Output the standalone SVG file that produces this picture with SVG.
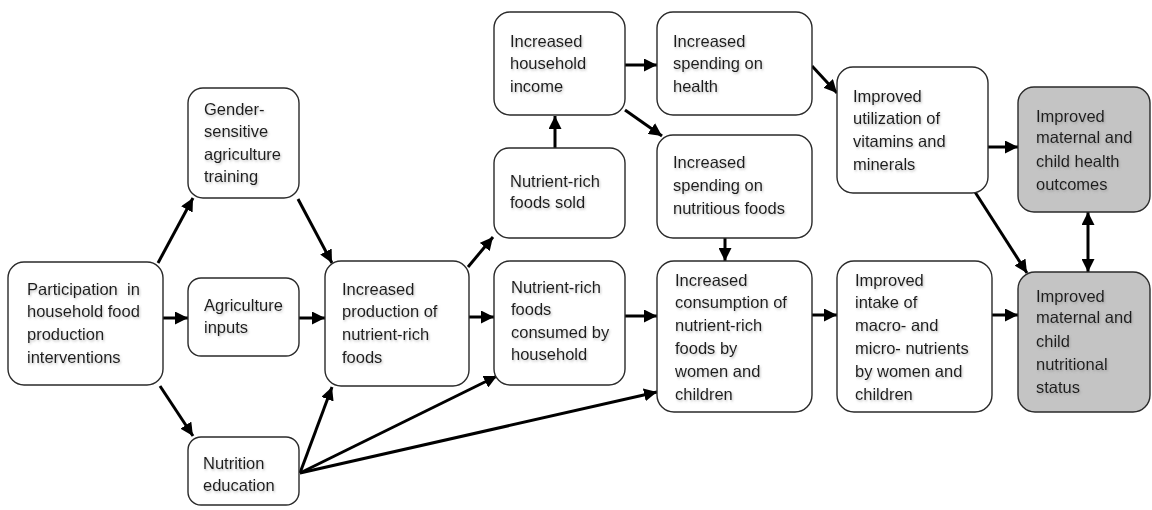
<svg xmlns="http://www.w3.org/2000/svg" width="1152" height="510" viewBox="0 0 1152 510">
  <style>
    .box { fill: #ffffff; stroke: #2a2a2a; stroke-width: 1.4; }
    .box.outcome { fill: #c4c4c4; }
    .lbl { font-family: "Liberation Sans", Arial, sans-serif; font-size: 16.5px; fill: #1e1e1e; filter: url(#soft); }
    .arrow { stroke: #000; stroke-width: 3; fill: none; marker-end: url(#head); }
    .both { marker-start: url(#head); }
  </style>
  <defs>
    <marker id="head" markerUnits="userSpaceOnUse" markerWidth="13" markerHeight="13" refX="13" refY="6.5" orient="auto-start-reverse">
      <path d="M0,0 L13,6.5 L0,13 z" fill="#000"/>
    </marker>
    <filter id="soft" x="-10%" y="-30%" width="130%" height="170%">
      <feDropShadow dx="1" dy="1.5" stdDeviation="1" flood-color="#777" flood-opacity="0.45"/>
    </filter>
  </defs>

  <!-- connectors -->
  <g id="connectors">
    <line class="arrow" x1="158" y1="263" x2="193" y2="198"/>
    <line class="arrow" x1="163" y1="318" x2="188" y2="318"/>
    <line class="arrow" x1="160" y1="386" x2="193" y2="436"/>
    <line class="arrow" x1="298" y1="199" x2="332" y2="263"/>
    <line class="arrow" x1="299" y1="318" x2="325" y2="318"/>
    <line class="arrow" x1="300" y1="473" x2="332" y2="387"/>
    <line class="arrow" x1="300" y1="473" x2="497" y2="376"/>
    <line class="arrow" x1="300" y1="473" x2="657" y2="392"/>
    <line class="arrow" x1="468" y1="267" x2="493" y2="237"/>
    <line class="arrow" x1="469" y1="317" x2="494" y2="317"/>
    <line class="arrow" x1="625" y1="316" x2="657" y2="316"/>
    <line class="arrow" x1="555" y1="148" x2="555" y2="116"/>
    <line class="arrow" x1="625" y1="65" x2="657" y2="65"/>
    <line class="arrow" x1="625" y1="110" x2="662" y2="136"/>
    <line class="arrow" x1="812" y1="66" x2="837" y2="93"/>
    <line class="arrow" x1="725" y1="238" x2="725" y2="261"/>
    <line class="arrow" x1="988" y1="147" x2="1018" y2="147"/>
    <line class="arrow" x1="975" y1="192" x2="1027" y2="273"/>
    <line class="arrow both" x1="1088" y1="212" x2="1088" y2="272"/>
    <line class="arrow" x1="812" y1="315" x2="837" y2="315"/>
    <line class="arrow" x1="992" y1="315" x2="1018" y2="315"/>
  </g>

  <g id="participation">
    <rect class="box" x="8" y="262" width="155" height="123" rx="16"/>
    <text class="lbl" x="27"><tspan y="295">Participation&#160; in</tspan><tspan x="27" y="317">household food</tspan><tspan x="27" y="340">production</tspan><tspan x="27" y="363">interventions</tspan></text>
  </g>

  <g id="gender-training">
    <rect class="box" x="188" y="88" width="111" height="110" rx="15"/>
    <text class="lbl" x="204"><tspan y="115">Gender-</tspan><tspan x="204" y="137">sensitive</tspan><tspan x="204" y="160">agriculture</tspan><tspan x="204" y="182">training</tspan></text>
  </g>

  <g id="agri-inputs">
    <rect class="box" x="188" y="278" width="111" height="78" rx="13"/>
    <text class="lbl" x="204"><tspan y="311">Agriculture</tspan><tspan x="204" y="333">inputs</tspan></text>
  </g>

  <g id="nutrition-education">
    <rect class="box" x="188" y="437" width="111" height="68" rx="13"/>
    <text class="lbl" x="203"><tspan y="469">Nutrition</tspan><tspan x="203" y="491">education</tspan></text>
  </g>

  <g id="increased-production">
    <rect class="box" x="325" y="261" width="144" height="125" rx="16"/>
    <text class="lbl" x="342"><tspan y="295">Increased</tspan><tspan x="342" y="317">production of</tspan><tspan x="342" y="340">nutrient-rich</tspan><tspan x="342" y="363">foods</tspan></text>
  </g>

  <g id="foods-consumed">
    <rect class="box" x="494" y="261" width="131" height="124" rx="16"/>
    <text class="lbl" x="511"><tspan y="293">Nutrient-rich</tspan><tspan x="511" y="315">foods</tspan><tspan x="511" y="338">consumed by</tspan><tspan x="511" y="360">household</tspan></text>
  </g>

  <g id="foods-sold">
    <rect class="box" x="494" y="148" width="131" height="90" rx="15"/>
    <text class="lbl" x="510"><tspan y="187">Nutrient-rich</tspan><tspan x="510" y="208">foods sold</tspan></text>
  </g>

  <g id="household-income">
    <rect class="box" x="494" y="12" width="131" height="103" rx="16"/>
    <text class="lbl" x="510"><tspan y="47">Increased</tspan><tspan x="510" y="69">household</tspan><tspan x="510" y="92">income</tspan></text>
  </g>

  <g id="spending-health">
    <rect class="box" x="657" y="12" width="155" height="103" rx="16"/>
    <text class="lbl" x="673"><tspan y="47">Increased</tspan><tspan x="673" y="69">spending on</tspan><tspan x="673" y="92">health</tspan></text>
  </g>

  <g id="spending-foods">
    <rect class="box" x="657" y="135" width="155" height="103" rx="16"/>
    <text class="lbl" x="673"><tspan y="168">Increased</tspan><tspan x="673" y="191">spending on</tspan><tspan x="673" y="214">nutritious foods</tspan></text>
  </g>

  <g id="utilization">
    <rect class="box" x="837" y="67" width="151" height="126" rx="16"/>
    <text class="lbl" x="853"><tspan y="102">Improved</tspan><tspan x="853" y="124">utilization of</tspan><tspan x="853" y="147">vitamins and</tspan><tspan x="853" y="170">minerals</tspan></text>
  </g>

  <g id="health-outcomes">
    <rect class="box outcome" x="1018" y="87" width="132" height="125" rx="16"/>
    <text class="lbl" x="1036"><tspan y="122">Improved</tspan><tspan x="1036" y="143">maternal and</tspan><tspan x="1036" y="167">child health</tspan><tspan x="1036" y="190">outcomes</tspan></text>
  </g>

  <g id="increased-consumption">
    <rect class="box" x="657" y="261" width="155" height="151" rx="17"/>
    <text class="lbl" x="675"><tspan y="286">Increased</tspan><tspan x="675" y="308">consumption of</tspan><tspan x="675" y="331">nutrient-rich</tspan><tspan x="675" y="354">foods by</tspan><tspan x="675" y="377">women and</tspan><tspan x="675" y="400">children</tspan></text>
  </g>

  <g id="improved-intake">
    <rect class="box" x="837" y="261" width="155" height="151" rx="17"/>
    <text class="lbl" x="855"><tspan y="286">Improved</tspan><tspan x="855" y="308">intake of</tspan><tspan x="855" y="331">macro- and</tspan><tspan x="855" y="354">micro- nutrients</tspan><tspan x="855" y="377">by women and</tspan><tspan x="855" y="400">children</tspan></text>
  </g>

  <g id="nutritional-status">
    <rect class="box outcome" x="1018" y="272" width="132" height="140" rx="17"/>
    <text class="lbl" x="1036"><tspan y="302">Improved</tspan><tspan x="1036" y="323">maternal and</tspan><tspan x="1036" y="347">child</tspan><tspan x="1036" y="370">nutritional</tspan><tspan x="1036" y="393">status</tspan></text>
  </g>
</svg>
